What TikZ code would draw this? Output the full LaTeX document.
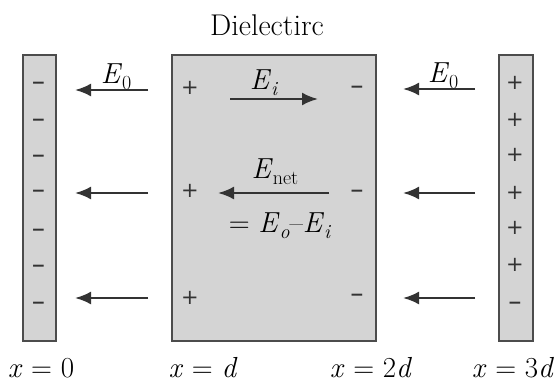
\documentclass[tikz,border=0pt]{standalone}
\usepackage{fontspec}
\setmainfont{Latin Modern Roman}
\newfontfamily\signfont{DejaVu Sans}
\usetikzlibrary{arrows.meta}
\newcommand{\lowsub}[1]{\raisebox{-0.22em}{\fontsize{20}{21}\selectfont #1}}
\begin{document}
\begin{tikzpicture}[x=1pt,y=-1pt,
  plate/.style={draw=black!70, line width=2pt, fill=black!17, inner sep=0pt, anchor=north west},
  fieldarrow/.style={draw=black!80, line width=2.3pt, -{Latex[length=16pt,width=13pt]}},
  lbl/.style={font=\fontsize{29}{32}\selectfont, inner sep=0pt},
  plussgn/.style={font=\signfont\fontsize{21}{24}\selectfont, inner sep=0pt, text=black!80},
  minussgn/.style={font=\signfont\bfseries\fontsize{17}{20}\selectfont, inner sep=0pt, text=black!80},
]
\useasboundingbox (0,0) rectangle (556,383);
\fill[white] (0,0) rectangle (556,383);

% plates and dielectric
\node[plate, minimum width=33pt, minimum height=286pt] (p0) at (22,54) {};
\node[plate, minimum width=204pt, minimum height=286pt] (diel) at (171,54) {};
\node[plate, minimum width=34pt, minimum height=286pt] (p3) at (498,54) {};

% title
\node[lbl, font=\fontsize{30}{32}\selectfont, anchor=base] (title) at (267,35) {Dielectirc};

% charges on left plate
\foreach \y [count=\i] in {85,122,158,193,232,268,305}
  \node[minussgn] (lm\i) at (38.5,\y) {−};
% charges on right plate
\foreach \y [count=\i] in {83,120,155,193,228,265}
  \node[plussgn] (rp\i) at (515,\y) {+};
\node[minussgn] (rm1) at (515,305) {−};
% induced charges on dielectric
\foreach \y [count=\i] in {88,191,298}
  \node[plussgn] (dp\i) at (190,\y) {+};
\foreach \y [count=\i] in {89,193,297}
  \node[minussgn] (dm\i) at (357,\y) {−};

% external field arrows
\foreach \y [count=\i] in {90,193,298} {
  \coordinate (la\i) at (148,\y);
  \coordinate (lb\i) at (75,\y);
  \draw[fieldarrow] (la\i) -- (lb\i);
}
\foreach \y [count=\i] in {89,193,298} {
  \coordinate (ra\i) at (475,\y);
  \coordinate (rb\i) at (403,\y);
  \draw[fieldarrow] (ra\i) -- (rb\i);
}
% internal fields
\coordinate (eia) at (230,99);
\coordinate (eib) at (318,99);
\draw[fieldarrow] (eia) -- (eib);
\coordinate (ena) at (329,193);
\coordinate (enb) at (218,193);
\draw[fieldarrow] (ena) -- (enb);

% labels
\node[lbl, anchor=base] (e0l) at (116,83) {\textit{E}\lowsub{0}};
\node[lbl, anchor=base] (e0r) at (443,82) {\textit{E}\lowsub{0}};
\node[lbl, anchor=base] (ei) at (264,89) {\textit{E}\lowsub{\textit{i}}};
\node[lbl, anchor=base] (enet) at (275,178) {\textit{E}\lowsub{net}};
\node[lbl, anchor=base] (eq) at (280,232) {= \textit{E}\lowsub{\textit{o}}–\textit{E}\lowsub{\textit{i}}};

\node[lbl, anchor=base] (x0) at (41,377) {\textit{x} = 0};
\node[lbl, anchor=base] (x1) at (203,377) {\textit{x} = \textit{d}};
\node[lbl, anchor=base] (x2) at (371,377) {\textit{x} = 2\textit{d}};
\node[lbl, anchor=base] (x3) at (513,377) {\textit{x} = 3\textit{d}};
\end{tikzpicture}
\end{document}
